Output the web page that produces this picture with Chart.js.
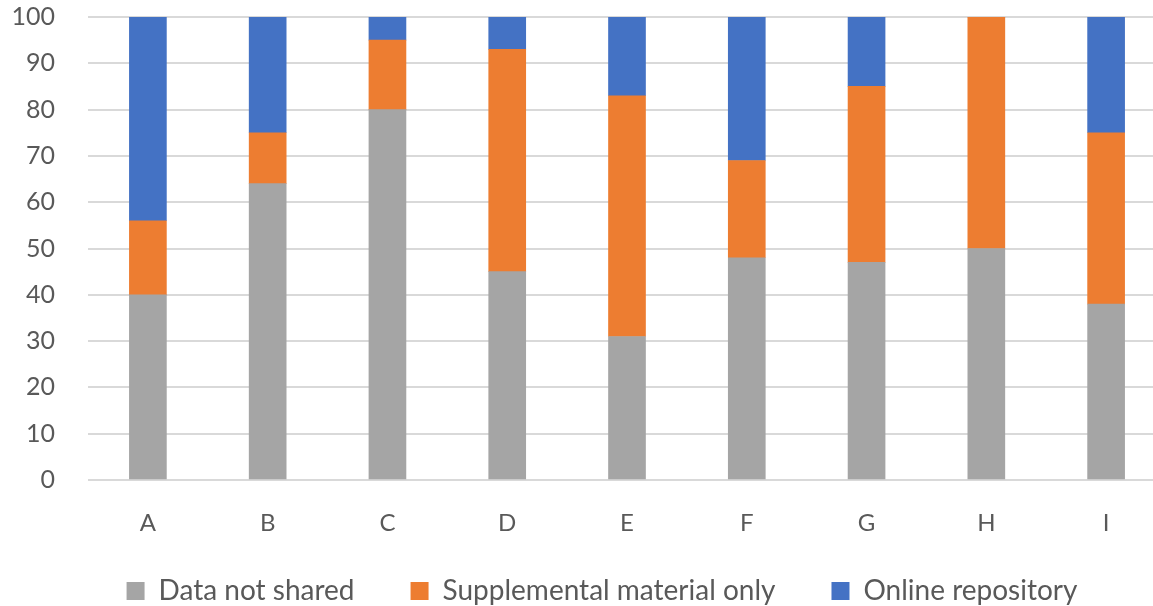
<!DOCTYPE html>
<html>
<head>
<meta charset="utf-8">
<script src="https://cdn.jsdelivr.net/npm/chart.js@4"></script>
<style>
  html, body { margin: 0; padding: 0; background: #fff; overflow: hidden; }
  #wrap { width: 1170px; height: 606px; position: relative; }
</style>
</head>
<body>
<div id="wrap"><canvas id="chart"></canvas></div>
<script>
const categories = ['A', 'B', 'C', 'D', 'E', 'F', 'G', 'H', 'I'];
const notShared = [40, 64, 80, 45, 31, 48, 47, 50, 38];
const supplementalOnly = [16, 11, 15, 48, 52, 21, 38, 50, 37];
const onlineRepository = [44, 25, 5, 7, 17, 31, 15, 0, 25];
const yTicks = [0, 10, 20, 30, 40, 50, 60, 70, 80, 90, 100];

const textColor = '#595959';
const fontFamily = 'Lato, "Open Sans", sans-serif';

// keep the legend box short and shift it a little to match the original
const legendTweak = {
    id: 'legendTweak',
    beforeUpdate(chart) {
        const lg = chart.legend;
        if (lg && !lg._patched) {
            const origFit = lg.fit.bind(lg);
            lg.fit = function () { origFit(); this.height = 69; };
            lg._patched = true;
        }
    },
    afterLayout(chart) {
        const lg = chart.legend;
        lg.top -= 16;
        lg.left += 19; lg.right += 19;
    }
};

new Chart(document.getElementById('chart'), {
    type: 'bar',
    data: {
        labels: categories,
        datasets: [
            { label: 'Data not shared', data: notShared, backgroundColor: '#a5a5a5' },
            { label: 'Supplemental material only', data: supplementalOnly, backgroundColor: '#ed7d31' },
            { label: 'Online repository', data: onlineRepository, backgroundColor: '#4472c4' }
        ]
    },
    plugins: [legendTweak],
    options: {
        responsive: true,
        maintainAspectRatio: false,
        animation: false,
        layout: { padding: { top: 0, right: 4, left: 0, bottom: 0 } },
        datasets: { bar: { barThickness: 37 } },
        plugins: {
            tooltip: { enabled: false },
            legend: {
                position: 'bottom',
                labels: {
                    color: textColor,
                    font: { family: fontFamily, size: 28 },
                    boxWidth: 18,
                    boxHeight: 18,
                    padding: 56
                }
            }
        },
        scales: {
            x: {
                stacked: true,
                grid: { display: false },
                border: { display: false },
                afterFit: (scale) => { scale.height = 57; },
                ticks: { color: textColor, font: { family: fontFamily, size: 24 }, padding: 21 }
            },
            y: {
                stacked: true,
                min: 0,
                max: 100,
                afterBuildTicks: (scale) => { scale.ticks = yTicks.map(v => ({ value: v })); },
                afterFit: (scale) => { scale.width = 88; scale.paddingTop = 17; scale.paddingBottom = 0; },
                grid: { color: '#d9d9d9', lineWidth: 2, drawTicks: false },
                border: { display: false },
                ticks: { color: textColor, font: { family: fontFamily, size: 25 }, padding: 33 }
            }
        }
    }
});
</script>
</body>
</html>
